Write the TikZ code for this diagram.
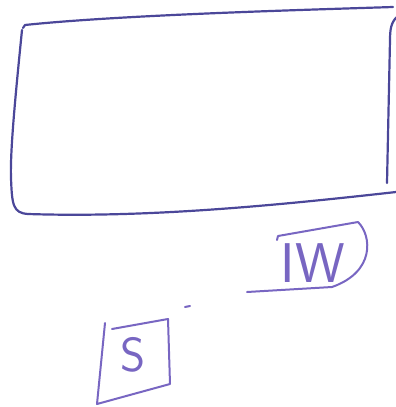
\documentclass[tikz,border=0pt]{standalone}
\usepackage{xcolor}
\usepackage{tikz}
\usetikzlibrary{positioning}
\definecolor{tinta}{HTML}{4B4799}
\definecolor{lila}{HTML}{7866C2}

\begin{document}
\begin{tikzpicture}[x=1pt,y=-1pt,
  trazo/.style={draw=tinta,line width=2.2pt,line cap=round,line join=round},
  trazolila/.style={trazo,draw=lila,line width=2pt},
  letra/.style={text=lila,inner sep=0pt,font=\sffamily\fontsize{56}{56}\selectfont}
]
\useasboundingbox (0,0) rectangle (396,407);
% marco grande
\draw[trazo] (23,28) -- (25,25) .. controls (120,15) and (300,10) .. (393,7);
\draw[trazo] (22,30) .. controls (16,90) and (10,150) .. (11,178)
  .. controls (12,205) and (13,213) .. (28,214)
  .. controls (150,218) and (280,205) .. (396,192);
\draw[trazo] (397,17) .. controls (391,22) and (390,30) .. (390,40) -- (387,183);
% IW
\node[letra] (iw) at (313,263) {IW};
\draw[trazolila] (277,240) -- (278,236) -- (358,222)
  .. controls (372,236) and (375,272) .. (332,287) -- (247,292);
% S
\node[letra,font=\sffamily\fontsize{48}{48}\selectfont] (s) at (133,355) {S};
\draw[trazolila] (105,323) -- (97,404) -- (170,384) -- (168,319) -- (112,329);
\draw[trazolila] (185,307) -- (190,306);
\end{tikzpicture}
\end{document}
